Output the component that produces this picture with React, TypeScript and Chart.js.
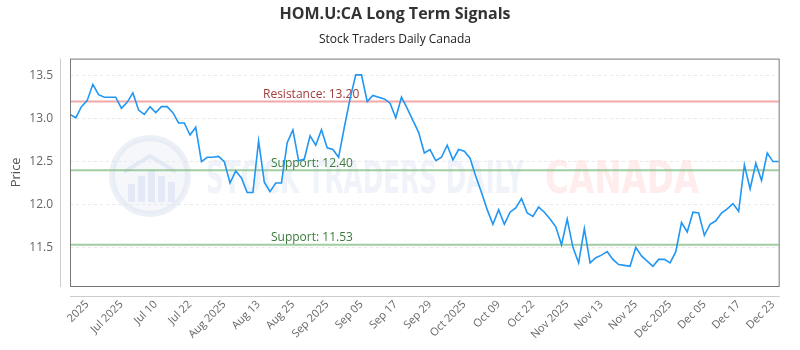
import React, { useEffect, useRef } from "react";
import { Chart, registerables } from "chart.js";

Chart.register(...registerables);

// ---- data ----
const closes: number[] = [
  13.05, 13.01, 13.14, 13.21, 13.40, 13.28, 13.25, 13.25, 13.25, 13.12,
  13.19, 13.30, 13.10, 13.05, 13.14, 13.07, 13.14, 13.14, 13.07, 12.95,
  12.95, 12.81, 12.90, 12.50, 12.55, 12.55, 12.56, 12.50, 12.25, 12.39,
  12.31, 12.14, 12.14, 12.74, 12.26, 12.15, 12.25, 12.25, 12.72, 12.87,
  12.51, 12.53, 12.80, 12.69, 12.87, 12.66, 12.64, 12.55, 12.90, 13.23,
  13.51, 13.51, 13.20, 13.27, 13.25, 13.23, 13.18, 13.01, 13.25, 13.12,
  12.98, 12.84, 12.60, 12.64, 12.51, 12.55, 12.69, 12.52, 12.64, 12.62,
  12.54, 12.33, 12.14, 11.94, 11.77, 11.94, 11.77, 11.91, 11.96, 12.07,
  11.90, 11.86, 11.97, 11.91, 11.83, 11.74, 11.53, 11.83, 11.50, 11.32,
  11.72, 11.32, 11.38, 11.41, 11.45, 11.36, 11.30, 11.29, 11.28, 11.50,
  11.40, 11.34, 11.28, 11.36, 11.36, 11.32, 11.45, 11.79, 11.68, 11.91,
  11.90, 11.64, 11.77, 11.81, 11.90, 11.95, 12.01, 11.92, 12.46, 12.18,
  12.48, 12.28, 12.60, 12.50, 12.50,
];

const tickLabels: string[] = [
  "2025", "Jul 2025", "Jul 10", "Jul 22", "Aug 2025", "Aug 13", "Aug 25",
  "Sep 2025", "Sep 05", "Sep 17", "Sep 29", "Oct 2025", "Oct 09", "Oct 22",
  "Nov 2025", "Nov 13", "Nov 25", "Dec 2025", "Dec 05", "Dec 17", "Dec 23",
];
const firstTickIndex = 3;
const tickEvery = 6;

const yTicks: number[] = [11.5, 12.0, 12.5, 13.0, 13.5];
const yMin = 11.05;
const yMax = 13.7;

const levelNames: string[] = ["Resistance", "Support", "Support"];
const levelValues: number[] = [13.2, 12.4, 11.53];

const labels: string[] = closes.map((_, i) =>
  i >= firstTickIndex && (i - firstTickIndex) % tickEvery === 0
    ? tickLabels[(i - firstTickIndex) / tickEvery] ?? ""
    : ""
);

const FONT = "'Open Sans', sans-serif";

const framePlugin = {
  id: "frame",
  beforeDatasetsDraw(chart: any) {
    const { ctx, chartArea } = chart;
    const { left, right } = chartArea;
    ctx.save();
    // watermark logo
    const cx = left + 80;
    const cy = 176;
    ctx.beginPath();
    ctx.arc(cx, cy, 38, 0, Math.PI * 2);
    ctx.fillStyle = "rgba(230,235,246,0.4)";
    ctx.fill();
    ctx.lineWidth = 6;
    ctx.strokeStyle = "rgba(218,225,240,0.5)";
    ctx.stroke();
    ctx.fillStyle = "rgba(212,221,240,0.5)";
    const bars = [[-22, 18], [-12, 26], [-2, 32], [8, 26], [18, 20]];
    bars.forEach(([dx, h]) => {
      ctx.fillRect(cx + dx, cy + 26 - h, 7, h);
    });
    ctx.beginPath();
    ctx.moveTo(cx - 26, cy - 4);
    ctx.lineTo(cx, cy - 20);
    ctx.lineTo(cx + 26, cy - 4);
    ctx.lineWidth = 4;
    ctx.strokeStyle = "rgba(212,221,240,0.5)";
    ctx.stroke();

    // watermark text
    const drawFit = (text: string, x: number, w: number, color: string) => {
      ctx.font = "bold 44px 'DejaVu Sans Condensed', " + FONT;
      const m = ctx.measureText(text).width;
      ctx.save();
      ctx.translate(x, 193);
      ctx.scale(w / m, 1);
      ctx.fillStyle = color;
      ctx.textBaseline = "alphabetic";
      ctx.textAlign = "left";
      ctx.fillText(text, 0, 0);
      ctx.restore();
    };
    drawFit("STOCK TRADERS DAILY", left + 136, 318, "rgba(226,233,246,0.5)");
    drawFit("CANADA", left + 475, 154, "rgba(255,220,220,0.55)");

    // level lines
    const y = chart.scales.y;
    levelValues.forEach((v, k) => {
      const py = y.getPixelForValue(v);
      const isRes = levelNames[k] === "Resistance";
      ctx.beginPath();
      ctx.moveTo(left, py);
      ctx.lineTo(right, py);
      ctx.lineWidth = 2;
      ctx.strokeStyle = isRes ? "rgba(240,140,140,0.75)" : "rgba(130,190,130,0.75)";
      ctx.stroke();
      ctx.font = "12px " + FONT;
      ctx.fillStyle = isRes ? "#a33a3a" : "#3c7a3c";
      ctx.textAlign = "left";
      ctx.textBaseline = "bottom";
      ctx.fillText(
        levelNames[k] + ": " + v.toFixed(2),
        left + (isRes ? 193 : 201),
        py - 1
      );
    });
    ctx.restore();
  },
  afterDraw(chart: any) {
    const { ctx, chartArea } = chart;
    const { left, right, top, bottom } = chartArea;
    ctx.save();
    ctx.lineWidth = 1;
    ctx.strokeStyle = "#777";
    ctx.strokeRect(left + 0.5, top + 0.5, right - left, bottom - top);
    ctx.strokeStyle = "#ccc";
    ctx.beginPath();
    ctx.moveTo(left - 9.5, top);
    ctx.lineTo(left - 9.5, bottom + 1);
    ctx.moveTo(left, bottom + 10.5);
    ctx.lineTo(right + 1, bottom + 10.5);
    ctx.stroke();
    ctx.restore();
  },
};

export default function App() {
  const ref = useRef<HTMLCanvasElement | null>(null);

  useEffect(() => {
    document.body.style.margin = "0";
    if (!ref.current) return;
    const chart = new Chart(ref.current, {
      type: "line",
      data: {
        labels,
        datasets: [
          {
            label: "Price",
            data: closes,
            borderColor: "#2196f3",
            borderWidth: 1.6,
            pointRadius: 0,
            tension: 0,
            fill: false,
          },
        ],
      },
      options: {
        animation: false,
        responsive: false,
        layout: { padding: { left: 0, right: 10, top: 0, bottom: 0 } },
        plugins: {
          legend: { display: false },
          tooltip: { enabled: false },
          title: {
            display: true,
            text: "HOM.U:CA Long Term Signals",
            color: "#333",
            font: { family: FONT, size: 16, weight: "bold" },
            padding: { top: 5, bottom: 8 },
          },
          subtitle: {
            display: true,
            text: "Stock Traders Daily Canada",
            color: "#222",
            font: { family: FONT, size: 12 },
            padding: { top: 0, bottom: 12 },
          },
        },
        scales: {
          x: {
            grid: { display: false, drawTicks: false },
            border: { display: false },
            ticks: {
              autoSkip: false,
              minRotation: 45,
              maxRotation: 45,
              padding: 12,
              color: "#666",
              font: { family: FONT, size: 11 },
            },
            afterFit: (s: any) => {
              s.height = 64;
            },
          },
          y: {
            min: yMin,
            max: yMax,
            grid: { color: "rgba(0,0,0,0.09)", drawTicks: false },
            border: { display: false, dash: [3, 3] },
            ticks: {
              padding: 17,
              color: "#666",
              font: { family: FONT, size: 12 },
              callback: (v: any) => Number(v).toFixed(1),
            },
            afterBuildTicks: (s: any) => {
              s.ticks = yTicks.map((v) => ({ value: v }));
            },
            afterFit: (s: any) => {
              s.width = 70;
            },
            title: {
              display: true,
              text: "Price",
              color: "#555",
              font: { family: FONT, size: 13 },
              padding: { top: 8, bottom: 0 },
            },
          },
        },
      },
      plugins: [framePlugin],
    });
    return () => chart.destroy();
  }, []);

  return (
    <div style={{ width: 800, height: 350 }}>
      <canvas ref={ref} width={800} height={350} />
    </div>
  );
}
